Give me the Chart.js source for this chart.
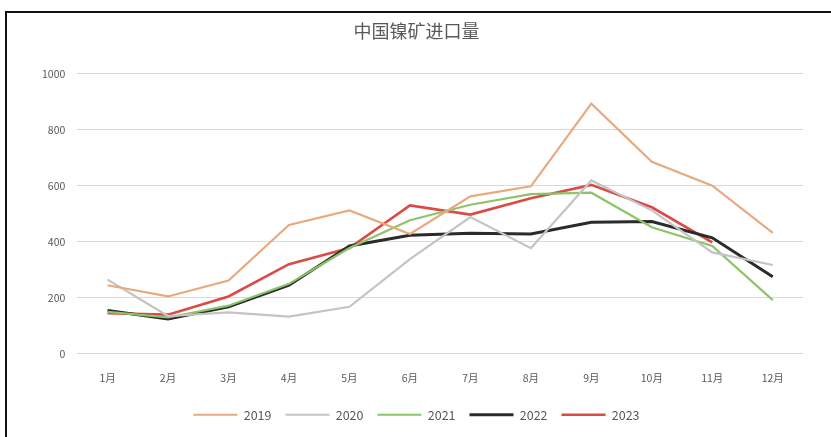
<!DOCTYPE html>
<html>
<head>
<meta charset="utf-8">
<script src="https://cdn.jsdelivr.net/npm/chart.js@4.4.1/dist/chart.umd.min.js"></script>
<style>
  html, body { margin: 0; padding: 0; background: #fff; }
  #wrap { position: relative; width: 831px; height: 437px; overflow: hidden; }
  #frame { position: absolute; left: 5px; top: 11px; width: 840px; height: 440px;
           border-left: 2px solid #111; border-top: 2px solid #111; box-sizing: border-box; }
  #chart { position: absolute; left: 0; top: 0; }
</style>
</head>
<body>
<div id="wrap">
  <div id="frame"></div>
  <canvas id="chart" width="831" height="437"></canvas>
</div>
<script>
const months = ['1月', '2月', '3月', '4月', '5月', '6月', '7月', '8月', '9月', '10月', '11月', '12月'];
const years = ['2019', '2020', '2021', '2022', '2023'];

// 月度进口量（万吨）
const y2019 = [245, 205, 262, 460, 512, 428, 562, 598, 893, 685, 600, 432];
const y2020 = [265, 135, 148, 133, 168, 338, 488, 377, 619, 512, 362, 317];
const y2021 = [150, 130, 172, 250, 378, 477, 532, 570, 575, 452, 385, 192];
const y2022 = [155, 125, 168, 245, 385, 423, 430, 428, 470, 472, 414, 275];
const y2023 = [145, 140, 205, 320, 378, 530, 497, 555, 603, 523, 398];

const colors = ['#E9A97E', '#C4C4C4', '#8DC46A', '#2B2B2B', '#DB4B45'];
const widths = [2.2, 2.2, 2.2, 3, 2.6];

const series = [y2019, y2020, y2021, y2022, y2023];

const datasets = years.map((name, i) => ({
  label: name,
  data: series[i],
  borderColor: colors[i],
  backgroundColor: colors[i],
  borderWidth: widths[i],
  pointRadius: 0,
  pointStyle: 'line',
  tension: 0,
  fill: false,
}));

const fontFamily = "'Noto Sans CJK SC', 'Noto Sans', sans-serif";

new Chart(document.getElementById('chart'), {
  type: 'line',
  data: { labels: months, datasets },
  options: {
    responsive: false,
    animation: false,
    layout: { padding: { left: 30, right: 28, top: 16, bottom: 6 } },
    plugins: {
      title: {
        display: true,
        text: '中国镍矿进口量',
        color: '#595959',
        font: { size: 18, weight: 'normal', family: fontFamily },
        padding: { top: 4, bottom: 32 },
      },
      legend: {
        position: 'bottom',
        labels: {
          usePointStyle: true,
          pointStyleWidth: 44,
          color: '#595959',
          font: { size: 12.5, family: fontFamily },
          padding: 14,
        },
      },
      tooltip: { enabled: false },
    },
    scales: {
      x: {
        offset: true,
        grid: { display: false },
        border: { display: false },
        ticks: { color: '#595959', font: { size: 10.5, family: fontFamily }, padding: 10 },
      },
      y: {
        min: 0,
        max: 1000,
        ticks: {
          stepSize: 200,
          color: '#595959',
          font: { size: 10.5, family: fontFamily },
          padding: 12,
          callback: v => String(v),
        },
        grid: { color: '#D9D9D9', lineWidth: 1, drawTicks: false },
        border: { display: false },
      },
    },
  },
});
</script>
</body>
</html>
